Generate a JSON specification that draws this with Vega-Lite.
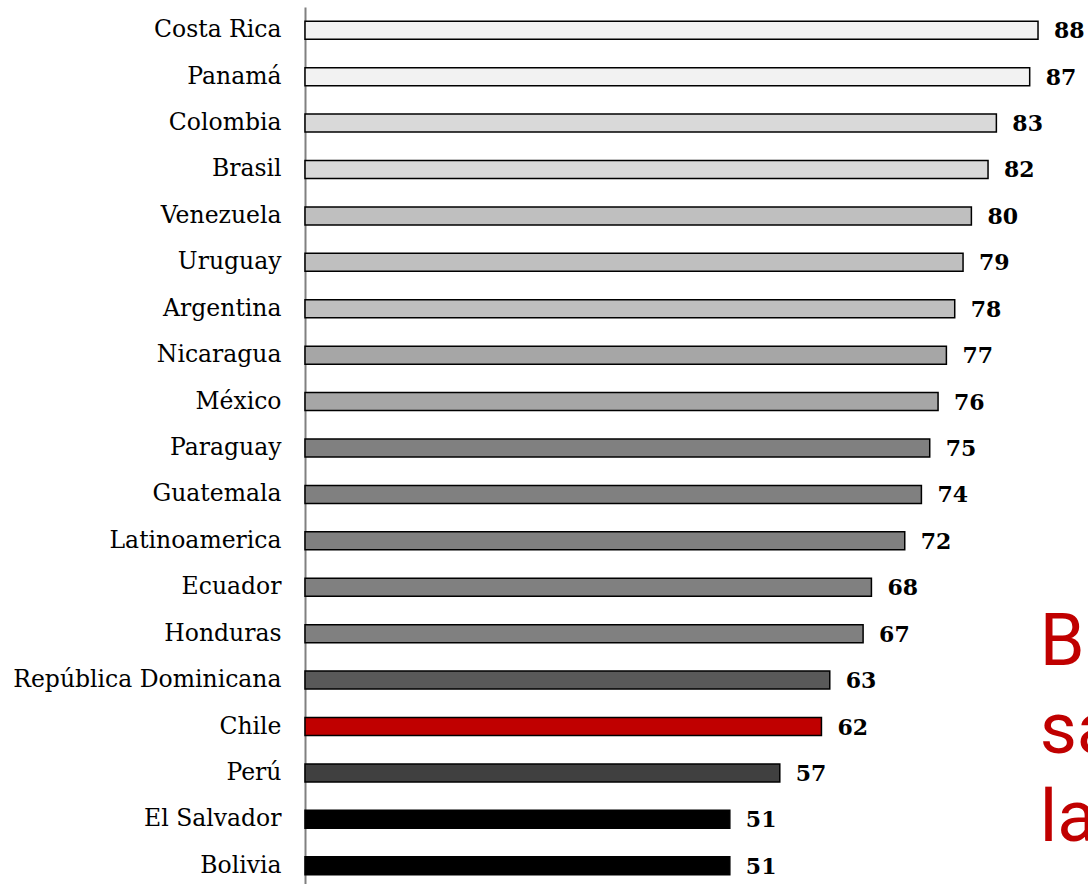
{
  "$schema": "https://vega.github.io/schema/vega-lite/v6.json",
  "autosize": {"type": "none"},
  "padding": {"left": 305, "top": 7, "right": 0, "bottom": 0},
  "width": 783,
  "height": 882,
  "background": "white",
  "config": {"view": {"stroke": null}},
  "datasets": {
    "bars": [
      {"pais": "Costa Rica", "valor": 88, "color": "#f2f2f2"},
      {"pais": "Panamá", "valor": 87, "color": "#f2f2f2"},
      {"pais": "Colombia", "valor": 83, "color": "#d9d9d9"},
      {"pais": "Brasil", "valor": 82, "color": "#d9d9d9"},
      {"pais": "Venezuela", "valor": 80, "color": "#bfbfbf"},
      {"pais": "Uruguay", "valor": 79, "color": "#bfbfbf"},
      {"pais": "Argentina", "valor": 78, "color": "#bfbfbf"},
      {"pais": "Nicaragua", "valor": 77, "color": "#a6a6a6"},
      {"pais": "México", "valor": 76, "color": "#a6a6a6"},
      {"pais": "Paraguay", "valor": 75, "color": "#808080"},
      {"pais": "Guatemala", "valor": 74, "color": "#808080"},
      {"pais": "Latinoamerica", "valor": 72, "color": "#808080"},
      {"pais": "Ecuador", "valor": 68, "color": "#808080"},
      {"pais": "Honduras", "valor": 67, "color": "#808080"},
      {"pais": "República Dominicana", "valor": 63, "color": "#595959"},
      {"pais": "Chile", "valor": 62, "color": "#c00000"},
      {"pais": "Perú", "valor": 57, "color": "#404040"},
      {"pais": "El Salvador", "valor": 51, "color": "#000000"},
      {"pais": "Bolivia", "valor": 51, "color": "#000000"}
    ],
    "nota": [
      {"texto": "Ba\nsa\nla", "pais": "Honduras", "x": 88.2}
    ]
  },
  "layer": [
    {
      "data": {"name": "bars"},
      "mark": {"type": "bar", "size": 18, "stroke": "#000000", "strokeWidth": 1.5},
      "encoding": {
        "y": {
          "field": "pais", "type": "nominal", "sort": null,
          "scale": {"paddingInner": 0, "paddingOuter": 0},
          "axis": {
            "title": null, "ticks": false, "domainColor": "#808080", "domainWidth": 2,
            "labelFont": "DejaVu Serif", "labelFontSize": 23.5, "labelColor": "#000000",
            "labelPadding": 24, "labelLimit": 400
          }
        },
        "x": {
          "field": "valor", "type": "quantitative",
          "scale": {"domain": [0, 94], "nice": false, "zero": true},
          "axis": null
        },
        "fill": {"field": "color", "type": "nominal", "scale": null}
      }
    },
    {
      "data": {"name": "bars"},
      "mark": {"type": "text", "align": "left", "baseline": "middle", "dx": 16, "dy": 1,
               "font": "DejaVu Serif", "fontSize": 22, "fontWeight": "bold", "color": "#000000"},
      "encoding": {
        "y": {"field": "pais", "type": "nominal", "sort": null},
        "x": {"field": "valor", "type": "quantitative"},
        "text": {"field": "valor", "type": "quantitative"}
      }
    },
    {
      "data": {"name": "nota"},
      "mark": {"type": "text", "align": "left", "baseline": "alphabetic", "dy": 31,
               "lineBreak": "\n", "lineHeight": 88,
               "font": "Roboto", "fontSize": 72, "color": "#c00000"},
      "encoding": {
        "y": {"field": "pais", "type": "nominal", "sort": null},
        "x": {"field": "x", "type": "quantitative"},
        "text": {"field": "texto", "type": "nominal"}
      }
    }
  ]
}
